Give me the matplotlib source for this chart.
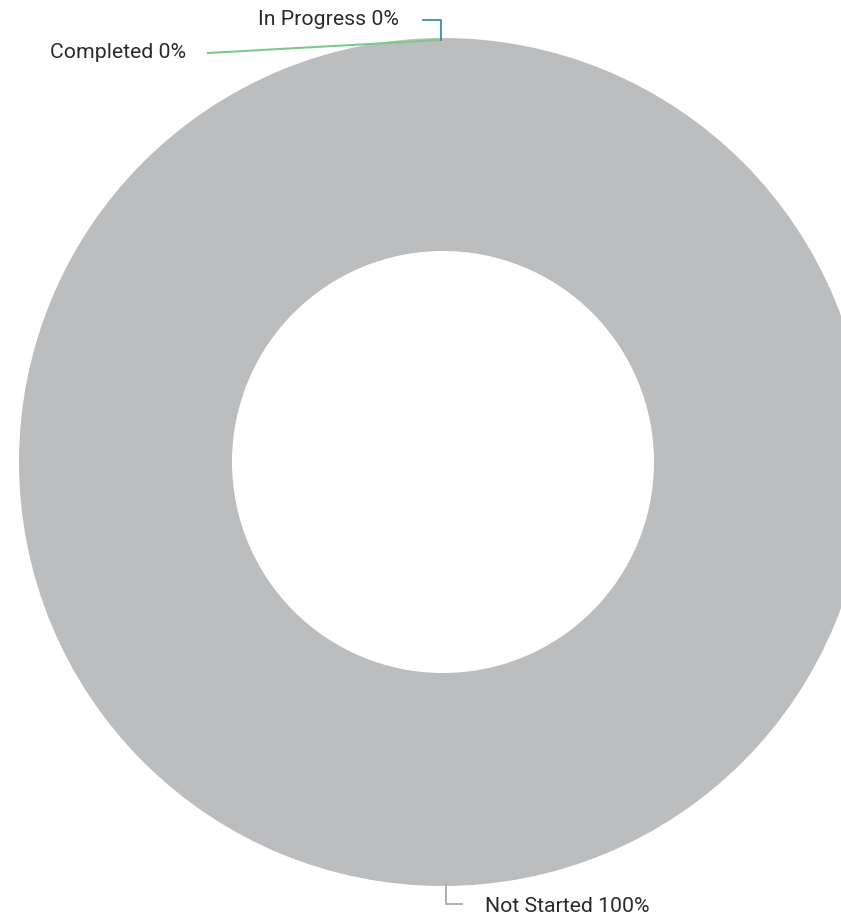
import matplotlib.pyplot as plt

# data
labels = ["Completed", "In Progress", "Not Started"]
values = [0, 0, 100]
colors = ["#6cc47c", "#2f9db0", "#bcbdbf"]
line_colors = ["#7cc98a", "#3a8fa0", "#a9a9a9"]

plt.rcParams['font.family'] = ['Roboto', 'DejaVu Sans']

fig = plt.figure(figsize=(8.41, 9.22), dpi=100)
ax = fig.add_axes([0, 0, 1, 1])

cx, cy, r_out, r_in = 443, 462, 424, 211
ax.pie(values, colors=colors, center=(cx, cy), radius=r_out,
       startangle=270, counterclock=True, frame=True,
       wedgeprops=dict(width=r_out - r_in, linewidth=0))
ax.set_xlim(0, 841)
ax.set_ylim(922, 0)
ax.set_aspect('equal')
ax.axis('off')

pct = [f"{l} {v:.0f}%" for l, v in zip(labels, values)]
fs = 15.3

# leader lines and labels
ax.plot([441, 208], [40, 53], color=line_colors[0], lw=1.5)
ax.text(50, 52, pct[0], fontsize=fs, color="#2b2b2b", va='center', ha='left')

ax.plot([423, 441, 441], [20, 20, 40], color=line_colors[1], lw=1.3)
ax.text(258, 19, pct[1], fontsize=fs, color="#2b2b2b", va='center', ha='left')

ax.plot([446, 446, 462], [884, 904, 904], color=line_colors[2], lw=1.3)
ax.text(485, 907, pct[2], fontsize=fs, color="#2b2b2b", va='center', ha='left')

fig.savefig("out.png", dpi=100)
